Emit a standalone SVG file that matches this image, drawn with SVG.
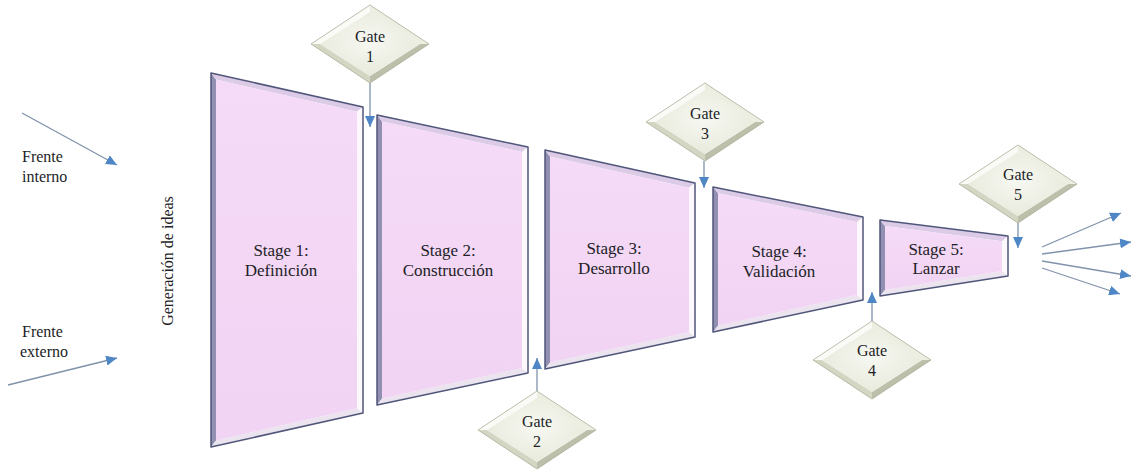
<svg xmlns="http://www.w3.org/2000/svg" xmlns:xlink="http://www.w3.org/1999/xlink" width="1132" height="469" viewBox="0 0 1132 469">
  <style>
    text { font-family: "Liberation Serif", "Times New Roman", serif; fill: #221e26; }
    .lbl { font-size: 16px; }
    .stg { font-size: 17px; text-anchor: middle; }
    .gt { font-size: 16px; text-anchor: middle; }
    .edge { stroke: #50567a; stroke-width: 1.5; stroke-linejoin: round; }
    .bl { fill: #918fb2; }
    .bt { fill: #dccbe6; }
    .br { fill: #fcf8fc; }
    .bb { fill: #ebe4ef; }
    .face { fill: url(#stageFill); }
    .conn { stroke: #8093aa; stroke-width: 1.3; fill: none; marker-end: url(#tip); }
  </style>
  <defs>
    <linearGradient id="stageFill" x1="0" y1="0" x2="0" y2="1">
      <stop offset="0" stop-color="#f5dbf7"/>
      <stop offset="1" stop-color="#f1d3f3"/>
    </linearGradient>
    <radialGradient id="gateFill" cx="0.5" cy="0.45" r="0.6">
      <stop offset="0" stop-color="#f7f8f2"/>
      <stop offset="1" stop-color="#e6e9da"/>
    </radialGradient>
    <marker id="tip" markerUnits="userSpaceOnUse" markerWidth="12" markerHeight="10" refX="11" refY="5" orient="auto">
      <path d="M0,0 L11,5 L0,10 Z" fill="#4e86c6"/>
    </marker>
    <!-- bevelled diamond used by every gate, centred on 0,0 -->
    <g id="diamond">
      <polygon points="-59,0 0,-39 0,-32 -50,0" fill="#fafbf6"/>
      <polygon points="0,-39 59,0 50,0 0,-32" fill="#eceee2"/>
      <polygon points="59,0 0,39 0,32 50,0" fill="#bcc0aa"/>
      <polygon points="0,39 -59,0 -50,0 0,32" fill="#d3d6c3"/>
      <polygon points="0,-32 50,0 0,32 -50,0" fill="url(#gateFill)"/>
      <polygon points="0,-39 59,0 0,39 -59,0" fill="none" stroke="#a9ae98" stroke-width="0.8"/>
    </g>
  </defs>

  <!-- side labels -->
  <g id="frente-interno">
    <text class="lbl" x="22" y="162">Frente</text>
    <text class="lbl" x="22" y="182">interno</text>
  </g>
  <g id="frente-externo">
    <text class="lbl" x="22" y="337">Frente</text>
    <text class="lbl" x="20" y="357">externo</text>
  </g>
  <g id="generacion">
    <text class="lbl" text-anchor="middle" transform="translate(173,261) rotate(-90)">Generación de ideas</text>
  </g>

  <!-- stages: outer bevel strips, inner face, outline -->
  <g id="stage1">
    <polygon class="bl" points="211,73 216,79.5 216,440.5 211,447"/>
    <polygon class="bt" points="211,73 363,107 357,111.8 216,79.5"/>
    <polygon class="br" points="363,107 363,413 357,408.2 357,111.8"/>
    <polygon class="bb" points="211,447 363,413 357,408.2 216,440.5"/>
    <polygon class="face" points="216,79.5 357,111.8 357,408.2 216,440.5"/>
    <polygon class="edge" fill="none" points="211,73 363,107 363,413 211,447"/>
    <text class="stg" x="281" y="256">Stage 1:</text>
    <text class="stg" x="281" y="276">Definición</text>
  </g>
  <g id="stage2">
    <polygon class="bl" points="377,115 382,121.4 382,398.6 377,405"/>
    <polygon class="bt" points="377,115 528,147 522,151.9 382,121.4"/>
    <polygon class="br" points="528,147 528,373 522,368.1 522,151.9"/>
    <polygon class="bb" points="377,405 528,373 522,368.1 382,398.6"/>
    <polygon class="face" points="382,121.4 522,151.9 522,368.1 382,398.6"/>
    <polygon class="edge" fill="none" points="377,115 528,147 528,373 377,405"/>
    <text class="stg" x="448" y="256">Stage 2:</text>
    <text class="stg" x="448" y="276">Construcción</text>
  </g>
  <g id="stage3">
    <polygon class="bl" points="545,150 550,156.5 550,362.5 545,369"/>
    <polygon class="bt" points="545,150 695,183 689,187.8 550,156.5"/>
    <polygon class="br" points="695,183 695,337 689,332.2 689,187.8"/>
    <polygon class="bb" points="545,369 695,337 689,332.2 550,362.5"/>
    <polygon class="face" points="550,156.5 689,187.8 689,332.2 550,362.5"/>
    <polygon class="edge" fill="none" points="545,150 695,183 695,337 545,369"/>
    <text class="stg" x="614" y="254">Stage 3:</text>
    <text class="stg" x="614" y="274">Desarrollo</text>
  </g>
  <g id="stage4">
    <polygon class="bl" points="713,187 718,193.3 718,325.7 713,332"/>
    <polygon class="bt" points="713,187 863,217 857,221.9 718,193.3"/>
    <polygon class="br" points="863,217 863,300 857,295.1 857,221.9"/>
    <polygon class="bb" points="713,332 863,300 857,295.1 718,325.7"/>
    <polygon class="face" points="718,193.3 857,221.9 857,295.1 718,325.7"/>
    <polygon class="edge" fill="none" points="713,187 863,217 863,300 713,332"/>
    <text class="stg" x="779" y="257">Stage 4:</text>
    <text class="stg" x="779" y="277">Validación</text>
  </g>
  <g id="stage5">
    <polygon class="bl" points="880,220 885,226 885,290 880,296"/>
    <polygon class="bt" points="880,220 1008,236 1002,241.3 885,226"/>
    <polygon class="br" points="1008,236 1008,276 1002,270.9 1002,241.3"/>
    <polygon class="bb" points="880,296 1008,276 1002,270.9 885,290"/>
    <polygon class="face" points="885,226 1002,241.3 1002,270.9 885,290"/>
    <polygon class="edge" fill="none" points="880,220 1008,236 1008,276 880,296"/>
    <text class="stg" x="936" y="255">Stage 5:</text>
    <text class="stg" x="936" y="274">Lanzar</text>
  </g>

  <!-- gates -->
  <g id="gate1">
    <use xlink:href="#diamond" transform="translate(370,44)"/>
    <text class="gt" x="370" y="42">Gate</text>
    <text class="gt" x="370" y="62">1</text>
  </g>
  <g id="gate2">
    <use xlink:href="#diamond" transform="translate(537,430)"/>
    <text class="gt" x="537" y="427">Gate</text>
    <text class="gt" x="537" y="447">2</text>
  </g>
  <g id="gate3">
    <use xlink:href="#diamond" transform="translate(705,122)"/>
    <text class="gt" x="705" y="119">Gate</text>
    <text class="gt" x="705" y="139">3</text>
  </g>
  <g id="gate4">
    <use xlink:href="#diamond" transform="translate(872,360)"/>
    <text class="gt" x="872" y="356">Gate</text>
    <text class="gt" x="872" y="376">4</text>
  </g>
  <g id="gate5">
    <use xlink:href="#diamond" transform="translate(1018,184)"/>
    <text class="gt" x="1018" y="180">Gate</text>
    <text class="gt" x="1018" y="200">5</text>
  </g>

  <!-- connectors -->
  <g id="connectors">
    <line class="conn" x1="22" y1="113" x2="117" y2="165"/>
    <line class="conn" x1="8" y1="385" x2="117" y2="358"/>
    <line class="conn" x1="370" y1="83" x2="370" y2="127"/>
    <line class="conn" x1="537" y1="391" x2="537" y2="358"/>
    <line class="conn" x1="704" y1="161" x2="704" y2="188"/>
    <line class="conn" x1="872" y1="321" x2="872" y2="292"/>
    <line class="conn" x1="1018" y1="223" x2="1018" y2="248"/>
    <line class="conn" x1="1042" y1="247" x2="1121" y2="213"/>
    <line class="conn" x1="1042" y1="254" x2="1131" y2="242"/>
    <line class="conn" x1="1042" y1="261" x2="1131" y2="276"/>
    <line class="conn" x1="1042" y1="268" x2="1120" y2="294"/>
  </g>
</svg>
